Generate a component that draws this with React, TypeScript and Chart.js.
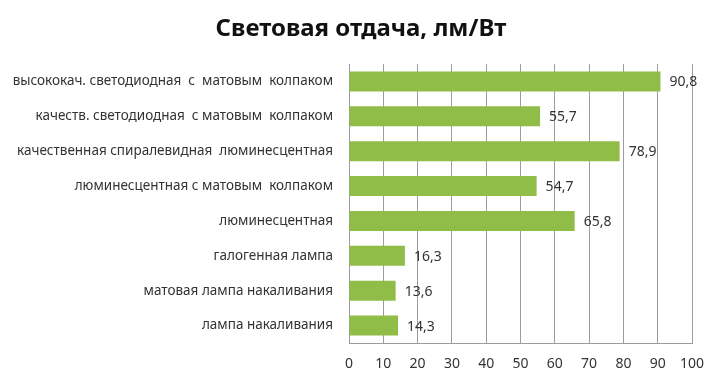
import React, { useEffect, useRef } from "react";
import { Chart, registerables } from "chart.js";

Chart.register(...registerables);

const titleText = "Световая отдача, лм/Вт";
const categories = [
  "высококач. светодиодная  с  матовым  колпаком",
  "качеств. светодиодная  с матовым  колпаком",
  "качественная спиралевидная  люминесцентная",
  "люминесцентная с матовым  колпаком",
  "люминесцентная",
  "галогенная лампа",
  "матовая лампа накаливания",
  "лампа накаливания",
];
const values = [90.8, 55.7, 78.9, 54.7, 65.8, 16.3, 13.6, 14.3];
const axisMin = 0;
const axisMax = 100;
const axisStep = 10;

const valueLabels = {
  id: "valueLabels",
  afterDatasetsDraw(chart: any) {
    const ctx = chart.ctx;
    const meta = chart.getDatasetMeta(0);
    ctx.save();
    ctx.font = "14px 'Noto Sans'";
    ctx.fillStyle = "#333333";
    ctx.textAlign = "left";
    ctx.textBaseline = "middle";
    meta.data.forEach((el: any, i: number) => {
      const v = chart.data.datasets[0].data[i] as number;
      ctx.fillText(v.toFixed(1).replace(".", ","), el.x + 9, el.y + 1);
    });
    ctx.restore();
  },
};

const chartTitle = {
  id: "chartTitle",
  afterDraw(chart: any) {
    const ctx = chart.ctx;
    ctx.save();
    ctx.font = "bold 24px 'Noto Sans'";
    ctx.fillStyle = "#111111";
    ctx.textAlign = "center";
    ctx.textBaseline = "middle";
    ctx.fillText(titleText, 361, 29);
    ctx.restore();
  },
};

export default function App() {
  const ref = useRef<HTMLCanvasElement>(null);
  useEffect(() => {
    if (!ref.current) return;
    const chart = new Chart(ref.current, {
      type: "bar",
      data: {
        labels: categories,
        datasets: [
          {
            data: values,
            backgroundColor: "#90bc48",
            borderWidth: 0,
            categoryPercentage: 1,
            barPercentage: 0.57,
          },
        ],
      },
      options: {
        indexAxis: "y",
        responsive: false,
        animation: false,
        layout: { padding: { left: 0, right: 26, top: 64, bottom: 0 } },
        plugins: {
          legend: { display: false },
          tooltip: { enabled: false },
          title: { display: false },
        },
        scales: {
          x: {
            min: axisMin,
            max: axisMax,
            ticks: {
              stepSize: axisStep,
              color: "#333333",
              font: { family: "'Noto Sans'", size: 14 },
              padding: 13,
            },
            grid: { color: "#9c9c9c", drawTicks: false, lineWidth: 1 },
            border: { color: "#9c9c9c" },
            afterFit(scale: any) {
              scale.height = 38;
            },
          },
          y: {
            ticks: {
              color: "#333333",
              font: { family: "'Noto Sans'", size: 13.5 },
              padding: 16,
            },
            grid: { display: false, drawTicks: false },
            border: { color: "#9c9c9c" },
            afterFit(scale: any) {
              scale.width = 349;
            },
          },
        },
      },
      plugins: [valueLabels, chartTitle],
    });
    return () => chart.destroy();
  }, []);
  return (
    <div style={{ position: "absolute", left: 0, top: 0, width: 718, height: 381, background: "#ffffff" }}>
      <canvas ref={ref} width={718} height={381} />
    </div>
  );
}
